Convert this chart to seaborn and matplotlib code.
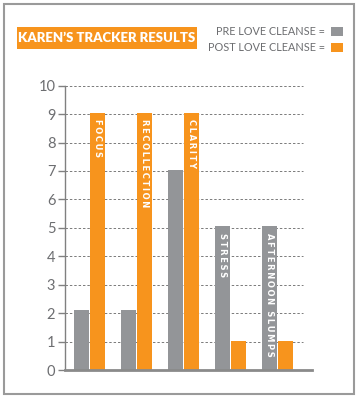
import matplotlib
matplotlib.use("Agg")
import matplotlib.pyplot as plt
import seaborn as sns
import pandas as pd
from matplotlib.patches import Rectangle

categories = ["FOCUS", "RECOLLECTION", "CLARITY", "STRESS", "AFTERNOON SLUMPS"]
pre_values = [2.1, 2.1, 7.05, 5.05, 5.05]
post_values = [9.05, 9.05, 9.05, 1.02, 1.02]
series = ["PRE LOVE CLEANSE", "POST LOVE CLEANSE"]
yticks = [0, 1, 2, 3, 4, 5, 6, 7, 8, 9, 10]
title = "KAREN\u2019S TRACKER RESULTS"

GRAY = "#939598"
ORANGE = "#F7941D"
TXT = "#6d6e71"

df = pd.DataFrame({
    "category": categories * 2,
    "value": pre_values + post_values,
    "series": [series[0]] * len(categories) + [series[1]] * len(categories),
})

sns.set_theme(style="white")
plt.rcParams["font.family"] = ["Lato", "DejaVu Sans"]

fig = plt.figure(figsize=(3.59, 4.0), dpi=100)
ax = fig.add_axes([65 / 359, 30 / 400, (312 - 65) / 359, (370 - 85.7) / 400])

sns.barplot(data=df, x="category", y="value", hue="series", order=categories,
            hue_order=series, palette=[GRAY, ORANGE], width=0.68, gap=0.06,
            linewidth=0, saturation=1, legend=False, ax=ax)

ax.set_ylim(0, 10)
ax.set_xlim(-0.52, 4.73)
ax.set_yticks(yticks)
ax.set_yticklabels([str(t) for t in yticks], fontsize=10.5, color=TXT)
ax.set_xticks([])
ax.set_xlabel("")
ax.set_ylabel("")
for t in yticks[1:]:
    ax.axhline(t, xmin=0, xmax=0.964, color="#7a7a7a", lw=0.7,
               ls=(0, (2.5, 2)), zorder=0)
ax.tick_params(axis="y", length=5, width=1, color="#808080", pad=2, left=True)
for s in ["top", "right"]:
    ax.spines[s].set_visible(False)
ax.spines["left"].set_color("#808080")
ax.spines["left"].set_linewidth(1.0)
ax.spines["bottom"].set_color("#8a8a8a")
ax.spines["bottom"].set_linewidth(2.0)

# labels inside tallest bar of each group
for i, (cat, pv, qv) in enumerate(zip(categories, pre_values, post_values)):
    if qv >= pv:
        xpos, top = i + 0.17 * 0.97, qv
    else:
        xpos, top = i - 0.17 * 0.97, pv
    label = "\u2009".join(cat)
    ax.text(xpos, top - 0.22, label, rotation=-90, ha="center", va="top",
            color="white", fontsize=6, fontweight="bold", family=["DejaVu Sans"])

# title box
fig.patches.append(Rectangle((17 / 359, 1 - 49 / 400), 180 / 359, 22 / 400,
                             transform=fig.transFigure, color=ORANGE, lw=0))
fig.text(107 / 359, 1 - 38.5 / 400, title, ha="center", va="center",
         color="white", fontsize=9.5, fontweight="heavy")

# legend
fig.text(325 / 359, 1 - 31.5 / 400, series[0] + " =", ha="right", va="center",
         color=TXT, fontsize=7.8)
fig.text(325 / 359, 1 - 47.5 / 400, series[1] + " =", ha="right", va="center",
         color=TXT, fontsize=7.8)
fig.patches.append(Rectangle((331 / 359, 1 - 36 / 400), 12 / 359, 9 / 400,
                             transform=fig.transFigure, color=GRAY, lw=0))
fig.patches.append(Rectangle((331 / 359, 1 - 52 / 400), 12 / 359, 9 / 400,
                             transform=fig.transFigure, color=ORANGE, lw=0))

# outer frame
fig.patches.append(Rectangle((4 / 359, 1 - 394 / 400), 350 / 359, 390 / 400,
                             transform=fig.transFigure, fill=False,
                             edgecolor="#9a9a9a", lw=1.5))

fig.savefig("out.png", dpi=100)
